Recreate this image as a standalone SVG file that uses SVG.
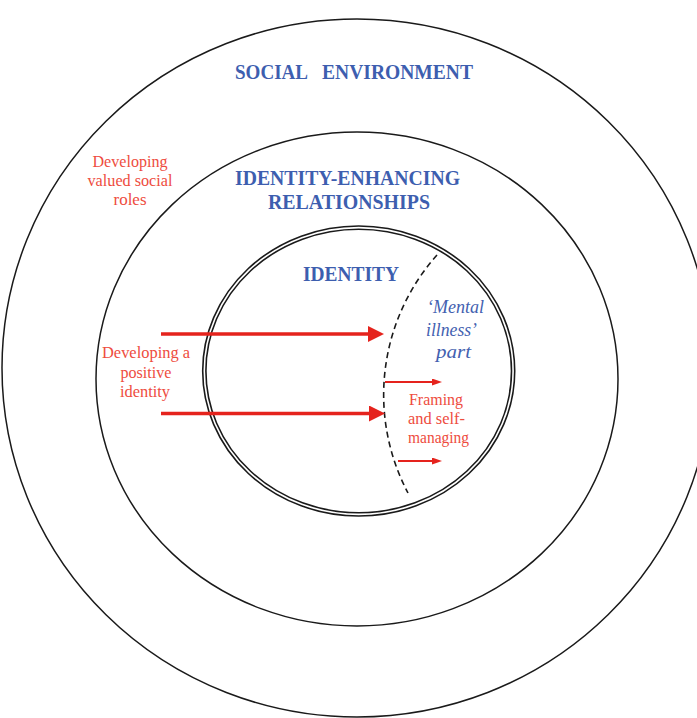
<svg xmlns="http://www.w3.org/2000/svg" width="697" height="718" viewBox="0 0 697 718">
  <style>
    .ring { fill: none; stroke: #1a1a1a; stroke-width: 1.6; }
    .ring-thin { fill: none; stroke: #1a1a1a; stroke-width: 1.5; }
    .head { font-family: "Liberation Serif", "Times New Roman", serif; font-weight: bold; font-size: 20px; fill: #3d5eaf; }
    .note { font-family: "Liberation Serif", "Times New Roman", serif; font-size: 17px; fill: #ee4c3e; text-anchor: middle; }
    .ital { font-family: "Liberation Serif", "Times New Roman", serif; font-style: italic; font-size: 18px; fill: #4361b0; text-anchor: middle; }
    .big { stroke: #e5231d; stroke-width: 3.6; fill: none; }
    .small { stroke: #e5231d; stroke-width: 2.2; fill: none; }
    .divide { fill: none; stroke: #1a1a1a; stroke-width: 1.6; stroke-dasharray: 6 4; }
  </style>
  <defs>
    <marker id="bigHead" markerUnits="userSpaceOnUse" markerWidth="16" markerHeight="16" refX="8" refY="8" orient="auto">
      <path d="M0,0 L16,8 L0,16 z" fill="#e5231d"/>
    </marker>
    <marker id="smallHead" markerUnits="userSpaceOnUse" markerWidth="10" markerHeight="7" refX="6" refY="3.5" orient="auto">
      <path d="M0,0 L10,3.5 L0,7 z" fill="#e5231d"/>
    </marker>
  </defs>

  <rect width="697" height="718" fill="#ffffff"/>

  <!-- outermost ring: social environment -->
  <g id="social-environment">
    <ellipse class="ring-thin" cx="357" cy="368" rx="355" ry="349"/>
    <text class="head" y="79"><tspan x="235" textLength="73" lengthAdjust="spacingAndGlyphs">SOCIAL</tspan><tspan x="322" textLength="151" lengthAdjust="spacingAndGlyphs">ENVIRONMENT</tspan></text>
    <g class="note">
      <text x="130" y="167" textLength="75" lengthAdjust="spacingAndGlyphs">Developing</text>
      <text x="130" y="186" textLength="85" lengthAdjust="spacingAndGlyphs">valued social</text>
      <text x="130" y="205" textLength="33" lengthAdjust="spacingAndGlyphs">roles</text>
    </g>
  </g>

  <!-- middle ring: relationships -->
  <g id="identity-enhancing-relationships">
    <ellipse class="ring-thin" cx="357" cy="379" rx="261" ry="247"/>
    <text class="head" x="235" y="185" textLength="225" lengthAdjust="spacingAndGlyphs">IDENTITY-ENHANCING</text>
    <text class="head" x="268" y="209" textLength="162" lengthAdjust="spacingAndGlyphs">RELATIONSHIPS</text>
    <g class="note">
      <text x="146" y="358" textLength="88" lengthAdjust="spacingAndGlyphs">Developing a</text>
      <text x="146" y="378" textLength="51" lengthAdjust="spacingAndGlyphs">positive</text>
      <text x="145" y="397" textLength="50" lengthAdjust="spacingAndGlyphs">identity</text>
    </g>
  </g>

  <!-- inner double ring: identity -->
  <g id="identity">
    <ellipse class="ring" cx="358.7" cy="371" rx="156" ry="145"/>
    <ellipse class="ring" cx="358.7" cy="371" rx="152.8" ry="141.8"/>
    <text class="head" x="303" y="281" textLength="96" lengthAdjust="spacingAndGlyphs">IDENTITY</text>
  </g>

  <!-- 'mental illness' part, split off by the dashed boundary -->
  <g id="mental-illness-part">
    <path class="divide" d="M437,255 A210,210 0 0 0 408,493"/>
    <text class="ital" x="455.5" y="313" textLength="57" lengthAdjust="spacingAndGlyphs">‘Mental</text>
    <text class="ital" x="451.5" y="336" textLength="51" lengthAdjust="spacingAndGlyphs">illness’</text>
    <text class="ital" x="453.5" y="358" textLength="35" lengthAdjust="spacingAndGlyphs">part</text>
    <g class="note">
      <text x="436" y="405" textLength="54" lengthAdjust="spacingAndGlyphs">Framing</text>
      <text x="436.5" y="424" textLength="57" lengthAdjust="spacingAndGlyphs">and self-</text>
      <text x="438.5" y="443" textLength="61" lengthAdjust="spacingAndGlyphs">managing</text>
    </g>
  </g>

  <!-- arrows -->
  <g id="connectors">
    <line class="big" x1="161" y1="334" x2="376" y2="334" marker-end="url(#bigHead)"/>
    <line class="big" x1="161" y1="413.5" x2="377" y2="413.5" marker-end="url(#bigHead)"/>
    <line class="small" x1="385" y1="382" x2="438" y2="382" marker-end="url(#smallHead)"/>
    <line class="small" x1="398" y1="461" x2="438" y2="461" marker-end="url(#smallHead)"/>
  </g>
</svg>
